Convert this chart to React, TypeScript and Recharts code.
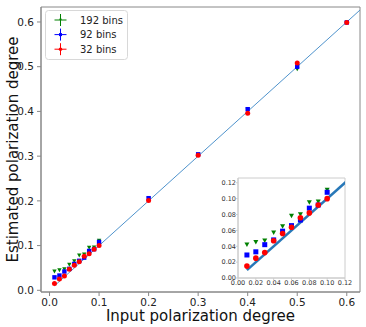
import {
  ComposedChart,
  Scatter,
  Line,
  XAxis,
  YAxis,
  ReferenceArea,
  Legend,
  Label,
} from "recharts";

// input polarization degree (x)
const inputDegree = [
  0.01, 0.02, 0.03, 0.04, 0.05, 0.06, 0.07, 0.08, 0.09, 0.1, 0.2, 0.3, 0.4, 0.5, 0.6,
];
// estimated polarization degree per binning
const est192 = [
  0.042, 0.045, 0.047, 0.057, 0.065, 0.078, 0.08, 0.095, 0.096, 0.111, 0.205, 0.303, 0.404, 0.494, 0.598,
];
const est92 = [
  0.029, 0.033, 0.042, 0.048, 0.059, 0.066, 0.073, 0.088, 0.092, 0.108, 0.206, 0.304, 0.405, 0.5, 0.599,
];
const est32 = [
  0.015, 0.025, 0.032, 0.047, 0.056, 0.064, 0.076, 0.082, 0.092, 0.1, 0.201, 0.302, 0.396, 0.508, 0.599,
];

const seriesNames = ["192 bins", "92 bins", "32 bins"];
const seriesColors = ["#008000", "#0000ff", "#ff0000"];
const seriesMarkers = ["triangleDown", "square", "circle"];

const mainTicks = [0, 0.1, 0.2, 0.3, 0.4, 0.5, 0.6];
const insetTicks = [0, 0.02, 0.04, 0.06, 0.08, 0.1, 0.12];

// y = x reference line end points
const identityMain = [0.01, 0.64];
const identityInset = [0.01, 0.13];

const mainX: [number, number] = [-0.0172, 0.6267];
const mainY: [number, number] = [-0.0038, 0.6335];
const insetX: [number, number] = [0, 0.12];
const insetY: [number, number] = [0, 0.126];
const insetMaxInput = 0.1;

const FONT = '"DejaVu Sans", sans-serif';

const allSeries = [est192, est92, est32].map((vals, i) => ({
  name: seriesNames[i],
  color: seriesColors[i],
  marker: seriesMarkers[i],
  data: inputDegree.map((x, j) => ({ x, y: vals[j] })),
}));

const toPoints = (xs: number[]) => xs.map((x) => ({ x, y: x }));

function drawMarker(kind: string, cx: number, cy: number, s: number, color: string) {
  if (kind === "square") {
    return <rect x={cx - s / 2} y={cy - s / 2} width={s} height={s} fill={color} />;
  }
  if (kind === "circle") {
    return <circle cx={cx} cy={cy} r={s / 2 + 0.3} fill={color} />;
  }
  const h = s * 0.9;
  return (
    <polygon
      points={`${cx - s / 2},${cy - h / 2} ${cx + s / 2},${cy - h / 2} ${cx},${cy + h / 2}`}
      fill={color}
    />
  );
}

const shapeFor = (kind: string, size: number, color: string) => (p: any) => {
  if (p.cx == null || p.cy == null) return <g />;
  return drawMarker(kind, p.cx, p.cy, size, color);
};

const renderLegend = (props: any) => {
  const items = (props.payload ?? []).filter((p: any) => seriesNames.includes(p.value));
  return (
    <svg width={84} height={51} style={{ display: "block" }}>
      <rect x={0.5} y={0.5} width={82} height={49} rx={3} fill="#fff" fillOpacity={0.8} stroke="#d8d8d8" />
      {items.map((p: any) => {
        const i = seriesNames.indexOf(p.value);
        const cy = 10 + i * 14.6;
        const cx = 15.5;
        const c = seriesColors[i];
        return (
          <g key={p.value}>
            <line x1={cx - 6} x2={cx + 6} y1={cy} y2={cy} stroke={c} strokeWidth={1} />
            <line x1={cx} x2={cx} y1={cy - 6} y2={cy + 6} stroke={c} strokeWidth={1} />
            {drawMarker(seriesMarkers[i], cx, cy, 3, c)}
            <text x={35} y={cy} dy="0.36em" fontSize={10} fill="#222" fontFamily={FONT}>
              {p.value}
            </text>
          </g>
        );
      })}
    </svg>
  );
};

export default function App() {
  return (
    <div style={{ position: "absolute", left: 0, top: 0, width: 366, height: 327, background: "#fff", fontFamily: FONT }}>
      <ComposedChart width={366} height={327} margin={{ top: 7, right: 6, bottom: 0, left: 0 }}>
        <XAxis
          type="number"
          dataKey="x"
          domain={mainX}
          allowDataOverflow
          ticks={mainTicks}
          tickFormatter={(v: number) => v.toFixed(1)}
          height={35}
          tickSize={4}
          tickMargin={3}
          stroke="#888"
          tick={{ fontSize: 10.5, fill: "#222", fontFamily: FONT }}
        >
          <Label
            content={(p: any) => {
              const vb = p.viewBox;
              return (
                <text x={vb.x + vb.width / 2} y={vb.y + 29} textAnchor="middle" fontSize={15} fill="#111" fontFamily={FONT}>
                  Input polarization degree
                </text>
              );
            }}
          />
        </XAxis>
        <YAxis
          type="number"
          dataKey="y"
          domain={mainY}
          allowDataOverflow
          ticks={mainTicks}
          tickFormatter={(v: number) => v.toFixed(1)}
          width={41}
          tickSize={4}
          tickMargin={3}
          stroke="#888"
          tick={{ fontSize: 10.5, fill: "#222", fontFamily: FONT }}
        >
          <Label
            content={(p: any) => {
              const vb = p.viewBox;
              const x = vb.x + 18;
              const y = vb.y + vb.height / 2;
              return (
                <text x={x} y={y} transform={`rotate(-90 ${x} ${y})`} textAnchor="middle" fontSize={15} fill="#111" fontFamily={FONT}>
                  Estimated polarization degree
                </text>
              );
            }}
          />
        </YAxis>
        <ReferenceArea x1={mainX[0]} x2={mainX[1]} y1={mainY[0]} y2={mainY[1]} fill="none" stroke="#888" ifOverflow="visible" />
        <Line
          data={toPoints(identityMain)}
          dataKey="y"
          type="linear"
          stroke="#4f93cc"
          strokeWidth={1}
          dot={false}
          legendType="none"
          isAnimationActive={false}
        />
        {allSeries.map((s) => (
          <Scatter
            key={s.name}
            name={s.name}
            data={s.data}
            fill={s.color}
            shape={shapeFor(s.marker, 4.4, s.color)}
            isAnimationActive={false}
          />
        ))}
        <Legend
          layout="vertical"
          align="center"
          verticalAlign="middle"
          content={renderLegend}
          wrapperStyle={{ left: 45, top: 10, width: 84, height: 51 }}
        />
      </ComposedChart>

      <div style={{ position: "absolute", left: 218, top: 172, width: 140, height: 118 }}>
        <ComposedChart width={140} height={118} margin={{ top: 6, right: 13, bottom: 0, left: 0 }}>
          <XAxis
            type="number"
            dataKey="x"
            domain={insetX}
            allowDataOverflow
            ticks={insetTicks}
            tickFormatter={(v: number) => v.toFixed(2)}
            height={12}
            tickSize={2}
            tickMargin={0}
            stroke="#ccc"
            tick={{ fontSize: 6.5, fill: "#333", fontFamily: FONT }}
          />
          <YAxis
            type="number"
            dataKey="y"
            domain={insetY}
            allowDataOverflow
            ticks={insetTicks}
            tickFormatter={(v: number) => v.toFixed(2)}
            width={20}
            tickSize={2}
            tickMargin={0}
            stroke="#ccc"
            tick={{ fontSize: 6.5, fill: "#333", fontFamily: FONT }}
          />
          <ReferenceArea x1={insetX[0]} x2={insetX[1]} y1={insetY[0]} y2={insetY[1]} fill="#fff" stroke="#ccc" ifOverflow="visible" />
          <Line
            data={toPoints(identityInset)}
            dataKey="y"
            type="linear"
            stroke="#2878b8"
            strokeWidth={2.5}
            dot={false}
            legendType="none"
            isAnimationActive={false}
          />
          {allSeries.map((s) => (
            <Scatter
              key={s.name}
              name={s.name}
              data={s.data.filter((d) => d.x <= insetMaxInput)}
              fill={s.color}
              shape={shapeFor(s.marker, 5, s.color)}
              isAnimationActive={false}
            />
          ))}
        </ComposedChart>
      </div>
    </div>
  );
}
